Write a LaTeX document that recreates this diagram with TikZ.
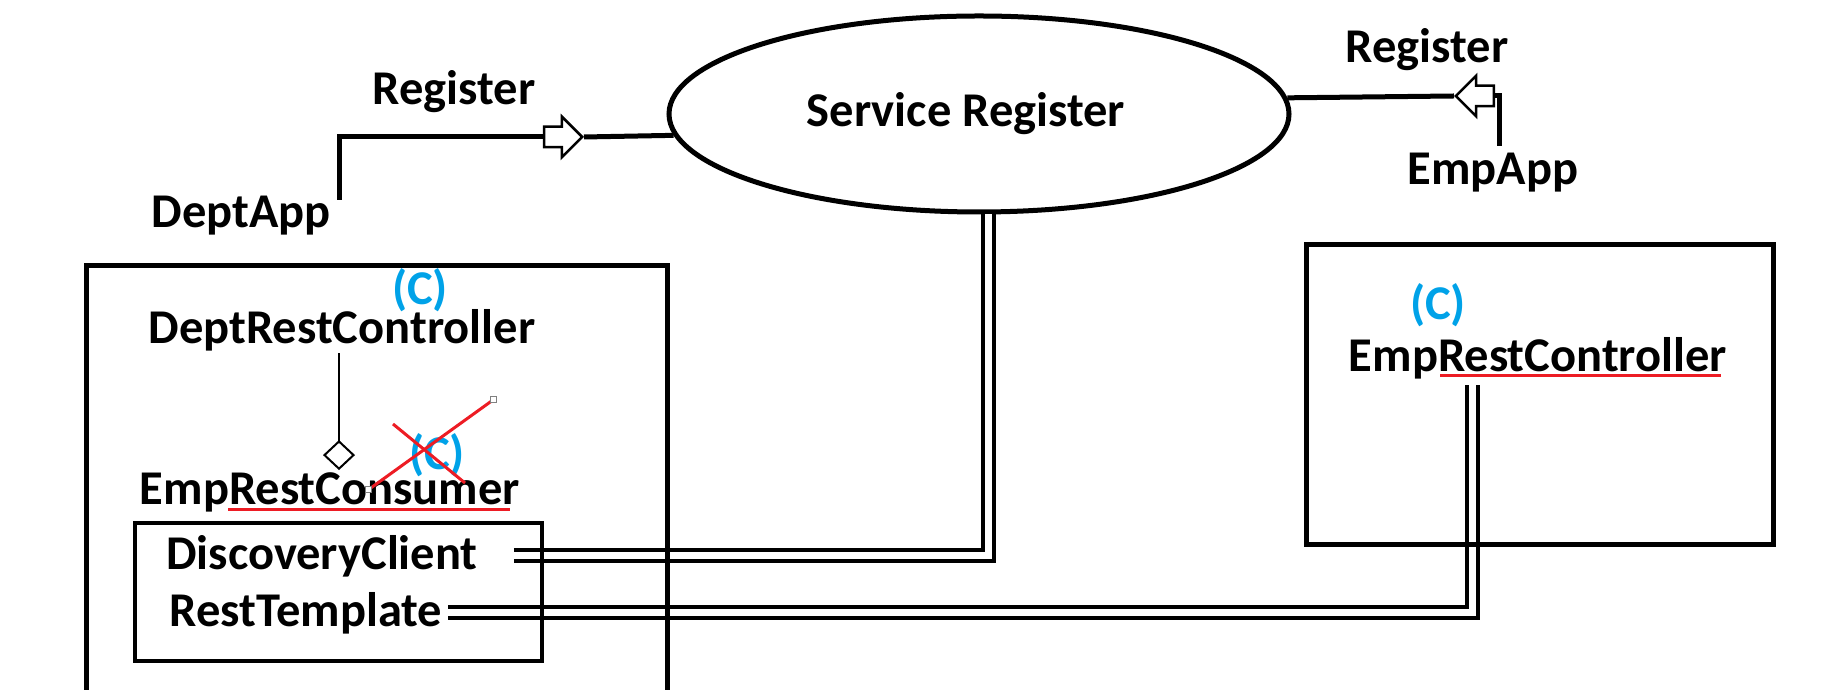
\documentclass[tikz,border=0pt]{standalone}
\usepackage{fontspec}
\setmainfont{Carlito}
\usetikzlibrary{arrows.meta,shapes,positioning}
\definecolor{paintblue}{RGB}{0,162,232}
\definecolor{paintred}{RGB}{237,28,36}

\begin{document}
\begin{tikzpicture}[x=1pt, y=1pt, >=Stealth,
  every node/.style={font=\fontsize{48.5}{58}\selectfont\bfseries, inner sep=2pt},
  heavy/.style={line width=5pt},
  hollow/.style={single arrow, draw, fill=white, line width=2.5pt, inner xsep=0pt, inner ysep=9pt,
    minimum height=38pt, single arrow head extend=10pt},
  cmark/.style={text=paintblue, inner sep=0pt},
  wire/.style={double, double distance=7pt, line width=4pt},
  redline/.style={paintred, line width=3pt}]
  \useasboundingbox (0,0) rectangle (1832,690);

  % Service register
  \node[draw, ellipse, heavy, minimum width=620pt, minimum height=196pt, inner sep=0pt] (sr) at (979,576) {\hspace*{-26pt}\raisebox{3pt}{Service Register}};

  % Register arrows
  \node[hollow, anchor=tip] (larr) at (584,553) {};
  \node[hollow, rotate=180, anchor=tip] (rarr) at (1454,594) {};
  \coordinate (dtail) at (339,490);
  \coordinate (etail) at (1499,544);
  \draw[heavy] (dtail) |- (larr.tail);
  \draw[heavy] (larr.tip) -- (sr.184.3);
  \draw[heavy] (etail) |- (rarr.tail);
  \draw[heavy] (rarr.tip) -- (sr.3.4);

  \node (regl) at (454,598) {Register};
  \node (dept) at (241,474) {DeptApp};
  \node (regr) at (1427,640) {Register};
  \node (emp) at (1493,517) {EmpApp};

  % DeptApp classes
  \node[cmark] (c1) at (420,400) {(C)};
  \node (drc) at (342,360) {DeptRestController};
  \node (erc) at (330,198) {EmpRestConsumer};
  \node[cmark] (c2) at (437,235) {(C)};
  \node (dc) at (322,134) {DiscoveryClient};
  \node (rt) at (306,77) {RestTemplate};
  \draw[line width=2pt, -{Diamond[open, length=30pt, width=32pt]}] ([xshift=-3pt]drc.south) -- ([xshift=9pt]erc.north);

  % EmpApp classes
  \node[cmark] (c3) at (1438,385) {(C)};
  \node (erctl) at (1538,332) {EmpRestController};

  % Links
  \draw[wire] ([xshift=34pt]dc.east) -| ([xshift=9pt]sr.south);
  \draw[wire] ([xshift=4pt]rt.east) -| ([xshift=-66pt, yshift=-4pt]erctl.south);

  % Boxes
  \draw[heavy] (86,-5) |- (667,424) -- (667,-5);
  \draw[line width=3.5pt] (135,29) rectangle (542,167);
  \draw[heavy] (1306,145) rectangle (1773,445);

  % Red marks
  \draw[redline] (228,180) -- (510,180);
  \draw[redline] (1440,314) -- (1721,314);
  \draw[redline] (368,200) -- (493,290);
  \draw[redline] (393,266) -- (465,207);
  \draw[gray, line width=1pt, fill=white] (365,197) rectangle ++(6,6);
  \draw[gray, line width=1pt, fill=white] (490,287) rectangle ++(6,6);
\end{tikzpicture}
\end{document}
